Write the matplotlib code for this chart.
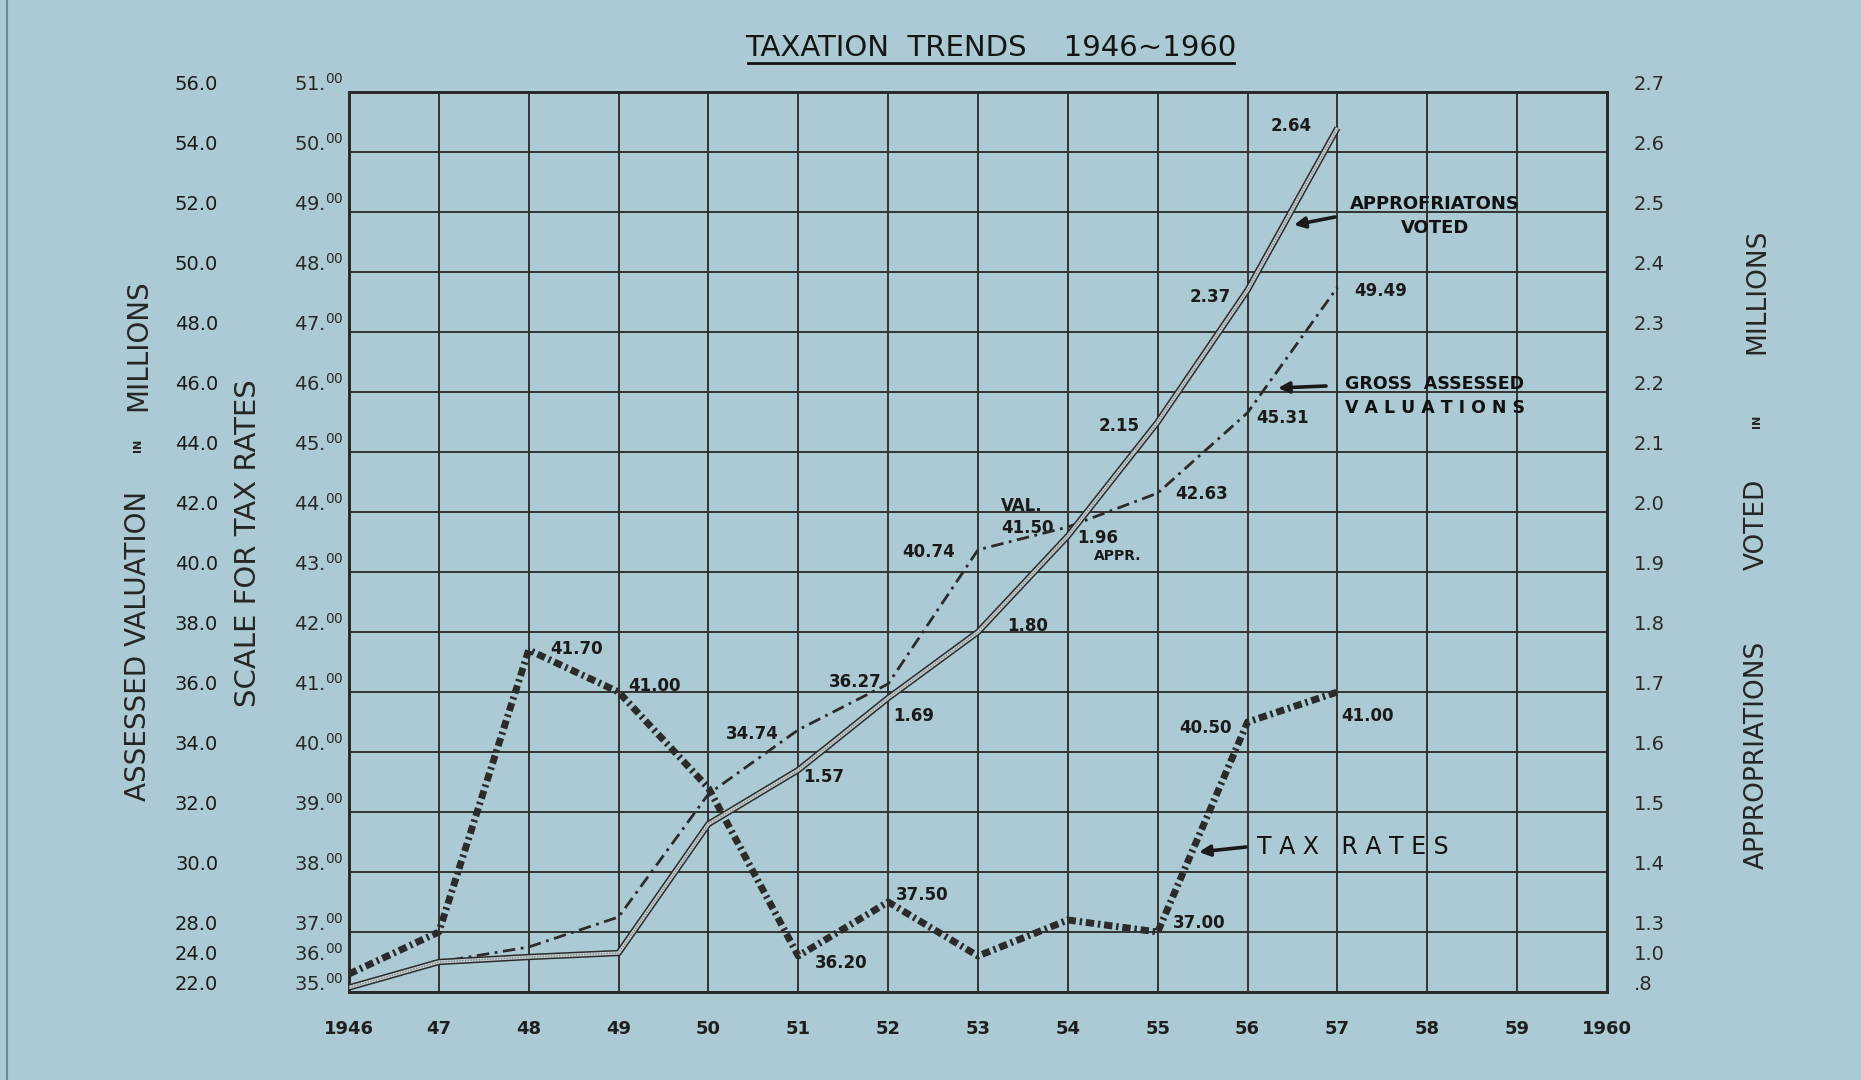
import numpy as np
import matplotlib
matplotlib.use("Agg")
import matplotlib.pyplot as plt
from matplotlib import transforms
from matplotlib.lines import Line2D

# data
years = [1946, 1947, 1948, 1949, 1950, 1951, 1952, 1953, 1954, 1955, 1956, 1957]
tax_rates = [35.60, 37.00, 41.70, 41.00, 39.40, 36.20, 37.50, 36.20, 37.20, 37.00, 40.50, 41.00]
valuations = [22.3, 24.0, 26.0, 28.5, 32.6, 34.74, 36.27, 40.74, 41.50, 42.63, 45.31, 49.49]
appropriations = [0.83, 1.00, 1.05, 1.09, 1.48, 1.57, 1.69, 1.80, 1.96, 2.15, 2.37, 2.64]

# scale ticks (the bottom row of the grid is squeezed)
val_ticks = [22, 24] + list(range(28, 57, 2))
tax_ticks = [35, 36] + list(range(37, 52))
app_ticks = [0.8, 1.0] + [round(1.3 + 0.1 * i, 1) for i in range(15)]
x_labels = ["1946", "47", "48", "49", "50", "51", "52", "53", "54", "55", "56", "57", "58", "59", "1960"]

bg = "#abcad3"
ink = "#2b2b2b"


def grid_scale(ticks):
    pos = np.array([0, 0.5] + list(range(1, len(ticks) - 1)), float)
    t = np.array(ticks, float)
    return (lambda v: np.interp(v, t, pos), lambda u: np.interp(u, pos, t))


fig = plt.figure(figsize=(18.61, 10.80), dpi=100, facecolor=bg)
ax = fig.add_axes([349 / 1861, 1 - 992 / 1080, 1258 / 1861, 900 / 1080])
ax.set_facecolor(bg)
ax_tax = ax.twinx()
ax_app = ax.twinx()

for a, ticks in [(ax, val_ticks), (ax_tax, tax_ticks), (ax_app, app_ticks)]:
    a.set_yscale("function", functions=grid_scale(ticks))
    a.set_ylim(ticks[0], ticks[-1])
    a.set_yticks([t for i, t in enumerate(ticks) if i != 1])
    a.tick_params(axis="y", left=False, right=False, labelleft=False, labelright=False)
    for s in a.spines.values():
        s.set_linewidth(2)
        s.set_color(ink)

ax.set_xlim(1946, 1960)
ax.set_xticks(range(1946, 1961))
ax.set_xticklabels(x_labels, fontsize=13, fontweight="bold", color="#1e1e1e")
ax.tick_params(axis="x", length=0, pad=20)
ax.grid(True, color="#333333", lw=1.4)
ax.set_axisbelow(True)

# tick labels drawn a little above each grid line
up = transforms.ScaledTranslation(0, 8 / 100, fig.dpi_scale_trans)
tr = transforms.blended_transform_factory(ax.transAxes, ax.transData) + up
for v in val_ticks:
    ax.text(-0.104, v, f"{v:.1f}", transform=tr, ha="right", va="center",
            fontsize=14, color="#1a1a1a")
tr = transforms.blended_transform_factory(ax_tax.transAxes, ax_tax.transData) + up
for v in tax_ticks:
    ax_tax.text(-0.004, v, f"{v}." + r"$^{00}$", transform=tr, ha="right", va="center",
                fontsize=14, color="#2a2a2a")
tr = transforms.blended_transform_factory(ax_app.transAxes, ax_app.transData) + up
for v in app_ticks:
    s = f"{v:.1f}" if v >= 1 else f"{v:.1f}"[1:]
    ax_app.text(1.0215, v, s, transform=tr, ha="left", va="center",
                fontsize=14, color="#2a2a2a")

# series
ax.plot(years, valuations, color=ink, lw=2.0, dashes=(4.5, 2.0, 1.0, 2.0), zorder=4)
ax_app.plot(years, appropriations, color=ink, lw=4.6, solid_capstyle="butt", zorder=3)
ax_app.plot(years, appropriations, color="#c3cdd0", lw=2.4, solid_capstyle="butt", zorder=3)
ax_app.plot(years, appropriations, color="#7d8a8e", lw=1.0, dashes=(1, 1), zorder=3)
ax_tax.plot(years, tax_rates, color=ink, lw=5.0, dashes=(1.2, 0.55, 0.35, 0.55), zorder=5)

# value labels next to points
lab = dict(textcoords="offset pixels", ha="center", va="center", fontsize=12,
           fontweight="bold", color="#1a1a1a")
tax_offsets = {1948: (48, 1), 1949: (36, 6), 1951: (43, -7), 1952: (34, 7),
               1955: (41, 9), 1956: (-42, -6), 1957: (30, -24)}
val_offsets = {1951: (-46, -4), 1952: (-33, 2), 1953: (-49, -2), 1954: (-40, -1),
               1955: (44, -1), 1956: (35, -5), 1957: (43, -4)}
app_offsets = {1951: (25, -7), 1952: (26, -18), 1953: (50, 6), 1954: (30, -2),
               1955: (-39, -4), 1956: (-37, -7), 1957: (-46, 2)}
for y, v in zip(years, tax_rates):
    if y in tax_offsets:
        ax_tax.annotate(f"{v:.2f}", (y, v), xytext=tax_offsets[y], **lab)
for y, v in zip(years, valuations):
    if y in val_offsets:
        ax.annotate(f"{v:.2f}", (y, v), xytext=val_offsets[y], **lab)
for y, v in zip(years, appropriations):
    if y in app_offsets:
        ax_app.annotate(f"{v:.2f}", (y, v), xytext=app_offsets[y], **lab)
ax.annotate("VAL.", (1954, valuations[8]), xytext=(-46, 21), **lab)
ax_app.annotate("APPR.", (1954, appropriations[8]), xytext=(50, -20),
                **{**lab, "fontsize": 10})

# call-outs
ax.text(0.863, 0.862, "APPROFRIATONS\nVOTED", transform=ax.transAxes, ha="center",
        va="center", fontsize=13, fontweight="bold", linespacing=1.4, color="#111")
ax.text(0.863, 0.662, "GROSS  ASSESSED\nV A L U A T I O N S", transform=ax.transAxes,
        ha="center", va="center", fontsize=12.5, fontweight="bold", linespacing=1.4, color="#111")
ax.text(0.798, 0.161, "T A X   R A T E S", transform=ax.transAxes, ha="center",
        va="center", fontsize=17, color="#111")
arrow = dict(arrowstyle="-|>", color="#1a1a1a", lw=2.6, mutation_scale=16,
             shrinkA=0, shrinkB=0)
for head, tail in [((1294, 225), (1335, 217)), ((1278, 388), (1326, 386)),
                   ((1199, 852), (1246, 847))]:
    ax.annotate("", xy=((head[0] - 349) / 1258, (992 - head[1]) / 900),
                xytext=((tail[0] - 349) / 1258, (992 - tail[1]) / 900),
                xycoords="axes fraction", textcoords="axes fraction", arrowprops=arrow)

# axis titles
side = dict(rotation=90, ha="center", va="center", color="#262626")
fig.text(138 / 1861, 1 - 646 / 1080, "ASSESSED VALUATION", fontsize=20, **side)
fig.text(138 / 1861, 1 - 445 / 1080, "IN", fontsize=8, fontweight="bold", **side)
fig.text(138 / 1861, 1 - 345 / 1080, "MILLIONS", fontsize=20, **side)
fig.text(248 / 1861, 1 - 543 / 1080, "SCALE FOR TAX RATES", fontsize=21, **side)
fig.text(1757 / 1861, 1 - 755 / 1080, "APPROPRIATIONS", fontsize=19, **side)
fig.text(1757 / 1861, 1 - 524 / 1080, "VOTED", fontsize=19, **side)
fig.text(1757 / 1861, 1 - 421 / 1080, "IN", fontsize=8, fontweight="bold", **side)
fig.text(1757 / 1861, 1 - 291 / 1080, "MILLIONS", fontsize=19, **side)

# title
fig.text(991 / 1861, 1 - 48 / 1080, "TAXATION  TRENDS    1946~1960",
         family=["Liberation Sans Narrow", "DejaVu Sans"], fontsize=21,
         ha="center", va="center", color="#151515")
fig.add_artist(Line2D([748 / 1861, 1234 / 1861], [1 - 63 / 1080, 1 - 63 / 1080],
                      color="#151515", lw=2))
fig.add_artist(Line2D([0.0035, 0.0035], [0, 1], color="#6c8993", lw=1.5))

fig.savefig("out.png", dpi=100, facecolor=bg)
